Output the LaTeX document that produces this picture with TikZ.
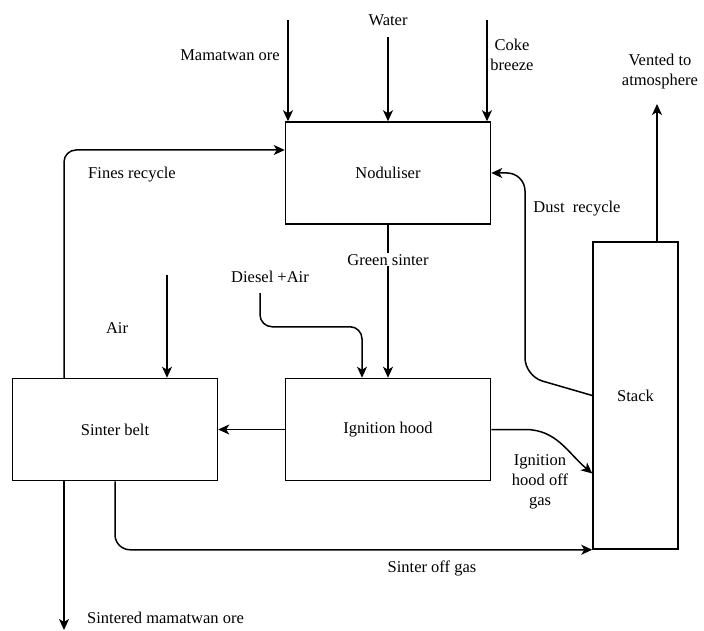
\documentclass[tikz,border=0pt]{standalone}
\usepackage{fontspec}
\setmainfont{Liberation Serif}
\usetikzlibrary{arrows.meta}
\begin{document}
\begin{tikzpicture}[
  x=1pt, y=-1pt,
  every node/.style = {font=\fontsize{16.5}{20}\selectfont},
  unit/.style  = {draw, rectangle, line width=1.5pt,
    minimum width=205pt, minimum height=102pt},
  stackbox/.style = {draw, rectangle, line width=1.5pt,
    minimum width=85pt, minimum height=307pt},
  lbl/.style   = {align=center, inner sep=1pt},
  flow/.style  = {line width=1.5pt, -{Stealth[length=11pt,width=10pt,inset=3pt]}}]
\useasboundingbox (0,0) rectangle (704,631);
\node[unit] (nod) at (388,173) {Noduliser};
\node[unit] (ih)  at (388,429.5) {Ignition hood};
\node[unit] (sb)  at (115,429.5) {Sinter belt};
\node[stackbox] (stk) at (635.5,395.5) {Stack};
\coordinate (ore)  at (288,20);
\coordinate (wat)  at (388,37);
\coordinate (coke) at (487,20);
\coordinate (vent) at (657,104);
\coordinate (dsl)  at (260,293);
\coordinate (air)  at (167,275);
\coordinate (out)  at (64,630);
\draw[flow] (ore) -- (ore |- nod.north);
\draw[flow] (wat) -- (nod.north);
\draw[flow] (coke) -- (coke |- nod.north);
\draw[flow] (vent |- stk.north) -- (vent);
\draw[flow, rounded corners=12pt] (out |- sb.north) |- ([yshift=23pt]nod.west);
\draw[flow, rounded corners=18pt] (stk.west) -- (525,376) -- (525,173) -- (nod.east);
\draw[flow] (nod.south) -- node[lbl, fill=white, pos=0.23] (gs) {Green sinter} (ih.north);
\draw[flow, rounded corners=12pt] (dsl) |- ([xshift=-26pt,yshift=51pt]ih.north)
  -- ([xshift=-26pt]ih.north);
\draw[flow] (air) -- (air |- sb.north);
\draw[flow] (ih.west) -- (sb.east);
\draw[flow] (ih.east) -- ++(34,0) to[out=0, in=140] ([yshift=-78pt]stk.west);
\draw[flow, rounded corners=15pt] (sb.south) |- (stk.south west);
\draw[flow] (out |- sb.south) -- (out);
\node[lbl] (l1) at (230,55) {Mamatwan ore};
\node[lbl] (l2) at (388,20) {Water};
\node[lbl] (l3) at (512,55) {Coke\\breeze};
\node[lbl] (l4) at (660,72) {Vented to\\atmosphere};
\node[lbl] (l5) at (132,175) {Fines recycle};
\node[lbl] (l6) at (577,209) {Dust\ \ recycle};
\node[lbl] (l7) at (270,277) {Diesel +Air};
\node[lbl] (l8) at (117,328) {Air};
\node[lbl, fill=white] (l9) at (540,482) {Ignition\\hood off\\gas};
\node[lbl] (l10) at (432,568) {Sinter off gas};
\node[lbl, anchor=west] (l11) at (86,618) {Sintered mamatwan ore};
\end{tikzpicture}
\end{document}
